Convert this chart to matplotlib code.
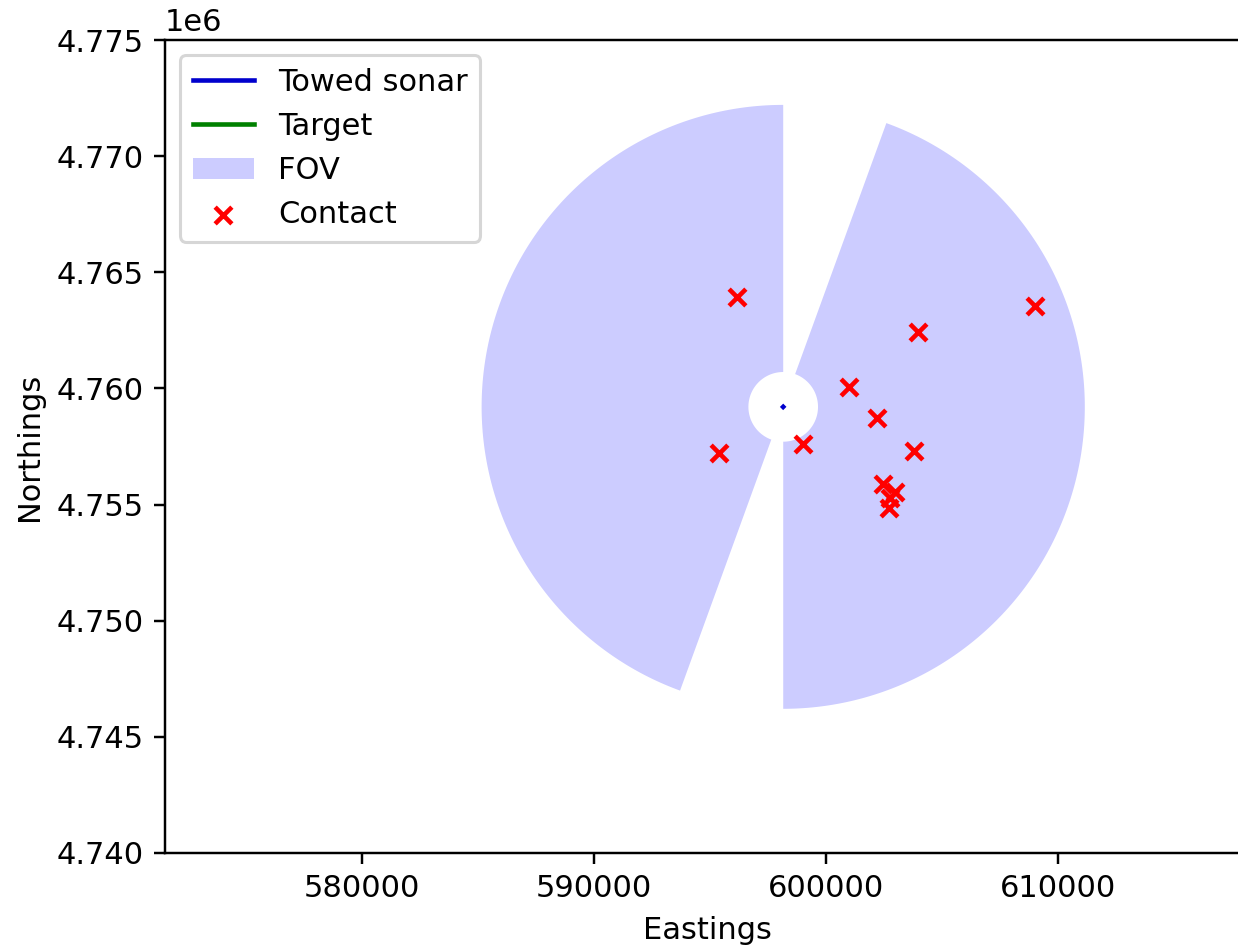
import numpy as np
from matplotlib import pyplot as plt

# towed sonar track (very short, shows as a dot)
sonar_e = np.array([598144.0, 598147.0])
sonar_n = np.array([4759204.0, 4759207.0])

# target track (nothing visible)
target_e = np.array([])
target_n = np.array([])

# field of view of the sonar
heading = 10.0        # deg
blind = 10.0          # half-width of endfire blind zones, deg
r_min = 1500.0
r_max = 13000.0

# contacts
contact_e = np.array([596160, 609010, 603970, 600990, 602200, 599010,
                      595390, 603800, 602460, 602980, 602760, 602720])
contact_n = np.array([4763940, 4763560, 4762440, 4760070, 4758730, 4757610,
                      4757220, 4757310, 4755890, 4755540, 4755290, 4754850])

dpi = 220
fig = plt.figure(figsize=(1238/dpi, 947/dpi), dpi=dpi)
ax = fig.add_axes([165/1238, 94/947, (1250-165)/1238, 813/947])

ax.plot(sonar_e, sonar_n, color='mediumblue', label='Towed sonar')
ax.plot(target_e, target_n, 'g', label='Target')

# two sectors, starboard and port
e0, n0 = sonar_e[-1], sonar_n[-1]
sectors = [(heading + blind, heading + 180 - blind),
           (heading + 180 + blind, heading + 360 - blind)]
for k, (b1, b2) in enumerate(sectors):
    th = np.radians(np.linspace(b1, b2, 200))
    xo = e0 + r_max*np.sin(th)
    yo = n0 + r_max*np.cos(th)
    xi = e0 + r_min*np.sin(th[::-1])
    yi = n0 + r_min*np.cos(th[::-1])
    ax.fill(np.concatenate([xo, xi]), np.concatenate([yo, yi]),
            color='b', alpha=0.2, lw=0, label='FOV' if k == 0 else None)

ax.scatter(contact_e, contact_n, marker='x', c='r', s=30, label='Contact', zorder=3)

ax.set_xlim(571500, 571500 + 1085/23.2*1000)
ax.set_ylim(4.740e6, 4.775e6)
ax.set_xlabel('Eastings')
ax.set_ylabel('Northings')
ax.spines['right'].set_visible(False)
ax.legend(loc='upper left')

fig.savefig('out.png', dpi=dpi)
